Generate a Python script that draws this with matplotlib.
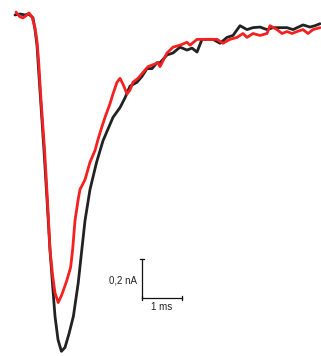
import matplotlib
matplotlib.use("Agg")
import matplotlib.pyplot as plt

# Current traces (time in ms, current in nA)
t_black = [0.0, 0.125, 0.25, 0.325, 0.4, 0.45, 0.5, 0.55, 0.575, 0.64, 0.725, 0.8, 0.875,
           0.94, 1.0, 1.075, 1.16, 1.25, 1.35, 1.46, 1.58, 1.67, 1.75, 1.875, 2.04, 2.2,
           2.45, 2.625, 2.75, 2.875, 3.05, 3.175, 3.3, 3.425, 3.55, 3.625, 3.8, 3.95,
           4.125, 4.3, 4.425, 4.55, 4.675, 4.8, 4.95, 5.125, 5.3, 5.45, 5.625, 5.8, 5.95,
           6.125, 6.3, 6.45, 6.625, 6.8, 6.95, 7.2, 7.375, 7.5, 7.625]
i_black = [-0.005, 0.0, -0.005, 0.0, -0.01, -0.02, -0.08, -0.16, -0.24, -0.44, -0.70, -0.95,
           -1.21, -1.39, -1.55, -1.67, -1.73, -1.71, -1.64, -1.55, -1.38, -1.21, -1.06,
           -0.90, -0.76, -0.65, -0.53, -0.48, -0.43, -0.37, -0.35, -0.32, -0.28, -0.28,
           -0.25, -0.25, -0.21, -0.20, -0.17, -0.185, -0.175, -0.195, -0.13, -0.13, -0.13,
           -0.15, -0.12, -0.11, -0.06, -0.08, -0.07, -0.067, -0.08, -0.07, -0.07, -0.07,
           -0.08, -0.056, -0.067, -0.06, -0.05]

t_red = [0.025, 0.125, 0.2, 0.3, 0.35, 0.425, 0.5, 0.55, 0.59, 0.65, 0.74, 0.81, 0.875,
         0.94, 1.0, 1.08, 1.17, 1.29, 1.39, 1.44, 1.5, 1.58, 1.625, 1.75, 1.875, 2.0, 2.08,
         2.17, 2.25, 2.375, 2.45, 2.55, 2.625, 2.7, 2.8, 2.875, 2.95, 3.075, 3.2, 3.325,
         3.45, 3.575, 3.625, 3.8, 3.95, 4.125, 4.3, 4.375, 4.55, 4.7, 4.875, 5.05, 5.2,
         5.375, 5.55, 5.7, 5.8, 5.95, 6.125, 6.3, 6.375, 6.55, 6.675, 6.8, 6.925, 7.05,
         7.2, 7.325, 7.45, 7.625]
i_red = [0.01, -0.015, -0.02, -0.005, 0.005, -0.015, -0.07, -0.14, -0.24, -0.44, -0.70,
         -0.95, -1.21, -1.34, -1.43, -1.48, -1.44, -1.37, -1.30, -1.21, -1.06, -0.95, -0.90,
         -0.85, -0.76, -0.70, -0.64, -0.58, -0.53, -0.46, -0.41, -0.35, -0.33, -0.36, -0.41,
         -0.39, -0.35, -0.33, -0.30, -0.27, -0.26, -0.25, -0.27, -0.20, -0.17, -0.16,
         -0.145, -0.16, -0.13, -0.13, -0.13, -0.13, -0.15, -0.13, -0.12, -0.10, -0.12,
         -0.10, -0.11, -0.10, -0.06, -0.08, -0.10, -0.09, -0.10, -0.09, -0.08, -0.10,
         -0.08, -0.07]

# Scale bar
bar_t0, bar_i0 = 3.175, -1.456
bar_dt, bar_di = 1.0, 0.2
bar_t_label = "1 ms"
bar_i_label = "0,2 nA"

fig = plt.figure(figsize=(3.21, 3.56), dpi=100)
ax = fig.add_axes([0, 0, 1, 1])
ax.set_xlim(-0.375, 7.65)
ax.set_ylim(-1.754, 0.0718)
ax.axis("off")

ax.plot(t_black, i_black, color="#222222", lw=2.0, solid_joinstyle="round",
        solid_capstyle="round")
ax.plot(t_red, i_red, color="#f52020", lw=2.0, solid_joinstyle="round",
        solid_capstyle="round")

# scale bar with end ticks
bc = "#111111"
ax.plot([bar_t0, bar_t0 + bar_dt], [bar_i0, bar_i0], color=bc, lw=0.9)
ax.plot([bar_t0, bar_t0], [bar_i0, bar_i0 + bar_di], color=bc, lw=0.9)
tk_t = 0.06
tk_i = 0.011
ax.plot([bar_t0 - tk_t, bar_t0 + tk_t], [bar_i0 + bar_di] * 2, color=bc, lw=0.9)
for tt in (bar_t0, bar_t0 + bar_dt):
    ax.plot([tt, tt], [bar_i0 - tk_i, bar_i0 + tk_i], color=bc, lw=0.9)

ax.text(bar_t0 + bar_dt / 2, bar_i0 - 0.045, bar_t_label, ha="center", va="center",
        fontsize=7, family="Liberation Sans", color="#222222")
ax.text(bar_t0 - 0.13, bar_i0 + bar_di / 2 - 0.01, bar_i_label, ha="right", va="center",
        fontsize=7, family="Liberation Sans", color="#222222")

fig.savefig("out.png", dpi=100)
